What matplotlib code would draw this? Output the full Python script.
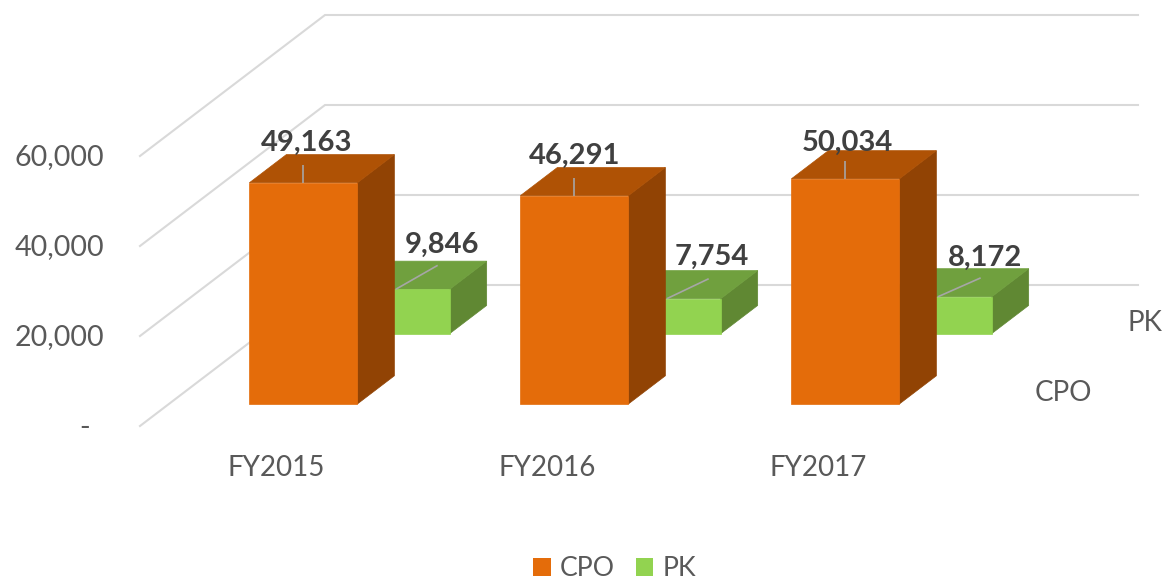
import matplotlib
matplotlib.use("Agg")
import matplotlib.pyplot as plt
from matplotlib.patches import Polygon, Patch

plt.rcParams["font.family"] = ["Lato", "DejaVu Sans"]

# data
years = ["FY2015", "FY2016", "FY2017"]
cpo = [49163, 46291, 50034]
pk = [9846, 7754, 8172]
ticks = [0, 20000, 40000, 60000]
tick_labels = ["-", "20,000", "40,000", "60,000"]

# layout, in pixels of the 1163x582 picture
W, H = 1163, 582
PX_PER_UNIT = 0.0045
Y0 = 426            # zero of the front edge of the floor
DEPTH_X, DEPTH_Y = 185, 141
GRID_L, GRID_R = 140, 1138
SLOT_X0, SLOT_STEP, BAR_W = 220.5, 271, 108
BAR_DEPTH = 0.2
CPO_DEPTH = 0.156
PK_DEPTH = 0.655

TEXT = "#595959"
LABEL = "#404040"
GRID = "#D9D9D9"
LEADER = "#A6A6A6"
CPO_COL = ("#E46C0A", "#AF5205", "#914304")
PK_COL = ("#92D350", "#70A03E", "#608833")

TICK_SIZE = 20.6
NAME_SIZE = 20
LABEL_SIZE = 21

fig = plt.figure(figsize=(W / 100, H / 100), dpi=100)
ax = fig.add_axes([0, 0, 1, 1])
ax.set_xlim(0, W)
ax.set_ylim((Y0 - H) / PX_PER_UNIT, Y0 / PX_PER_UNIT)
ax.axis("off")


def pt(x, value, depth=0.0):
    # oblique projection: depth moves a point right and up
    return x + DEPTH_X * depth, value + DEPTH_Y * depth / PX_PER_UNIT


def box(x, value, depth, cols, z):
    front = [pt(x, 0, depth), pt(x + BAR_W, 0, depth), pt(x + BAR_W, value, depth), pt(x, value, depth)]
    d2 = depth + BAR_DEPTH
    top = [pt(x, value, depth), pt(x + BAR_W, value, depth), pt(x + BAR_W, value, d2), pt(x, value, d2)]
    side = [pt(x + BAR_W, 0, depth), pt(x + BAR_W, 0, d2), pt(x + BAR_W, value, d2), pt(x + BAR_W, value, depth)]
    ax.add_patch(Polygon(side, fc=cols[2], ec=cols[2], lw=0.5, zorder=z))
    ax.add_patch(Polygon(top, fc=cols[1], ec=cols[1], lw=0.5, zorder=z))
    ax.add_patch(Polygon(front, fc=cols[0], ec=cols[0], lw=0.5, zorder=z + 0.1))


def label(x, value, depth, text, dx, dy, lead_dx, lead_dy, z):
    # dx, dy and the leader ends are pixel offsets from the middle of the bar's front top edge
    cx, cy = pt(x + BAR_W / 2, value, depth)
    ax.plot([cx, cx + lead_dx], [cy, cy + lead_dy / PX_PER_UNIT], color=LEADER, lw=1.2, zorder=z, solid_capstyle="butt")
    ax.text(cx + dx, cy + dy / PX_PER_UNIT, text, ha="center", va="center", fontsize=LABEL_SIZE,
            fontweight="bold", color=LABEL, zorder=z + 1)


# walls
for t, s in zip(ticks, tick_labels):
    x1, y1 = pt(GRID_L, t)
    x2, y2 = pt(GRID_L, t, 1)
    ax.plot([x1, x2, GRID_R], [y1, y2, y2], color=GRID, lw=1.5, zorder=1, solid_joinstyle="miter")
    # the dash of the accounting format sits left of the digits' right edge
    ax.text(90 if t == 0 else 104, t - 1.5 / PX_PER_UNIT, s, ha="right", va="center", fontsize=TICK_SIZE, color=TEXT)

# bars
for i, year in enumerate(years):
    x = SLOT_X0 + SLOT_STEP * i
    box(x, pk[i], PK_DEPTH, PK_COL, 2)
    box(x, cpo[i], CPO_DEPTH, CPO_COL, 3)
    ax.text(x + 55.5, -42.5 / PX_PER_UNIT, year, ha="center", va="center", fontsize=NAME_SIZE, color=TEXT)

# data labels, nudged one by one like the hand placed ones in the chart
cpo_nudge = [(3, 40), (0, 40), (2, 36)]
pk_nudge = [(46, 44), (45, 42), (47, 39)]
pk_lead = [(42, 24), (42, 20), (43, 19)]
for i in range(3):
    x = SLOT_X0 + SLOT_STEP * i
    label(x, pk[i], PK_DEPTH, f"{pk[i]:,}", pk_nudge[i][0], pk_nudge[i][1], pk_lead[i][0], pk_lead[i][1], 2.5)
    label(x, cpo[i], CPO_DEPTH, f"{cpo[i]:,}", cpo_nudge[i][0], cpo_nudge[i][1], 0, 18, 3.5)

# series names on the depth axis
ax.text(1145, (Y0 - 323) / PX_PER_UNIT, "PK", ha="center", va="center", fontsize=NAME_SIZE, color=TEXT)
ax.text(1063, (Y0 - 393) / PX_PER_UNIT, "CPO", ha="center", va="center", fontsize=NAME_SIZE, color=TEXT)

handles = [Patch(fc=CPO_COL[0], label="CPO"), Patch(fc=PK_COL[0], label="PK")]
fig.legend(handles=handles, loc="center", bbox_to_anchor=(614.5 / W, 1 - 569 / H), ncol=2, frameon=False,
           fontsize=19.2, labelcolor=TEXT, handlelength=0.66, handleheight=0.66,
           handletextpad=0.33, columnspacing=0.8, borderpad=0)

fig.savefig("out.png", dpi=100)
